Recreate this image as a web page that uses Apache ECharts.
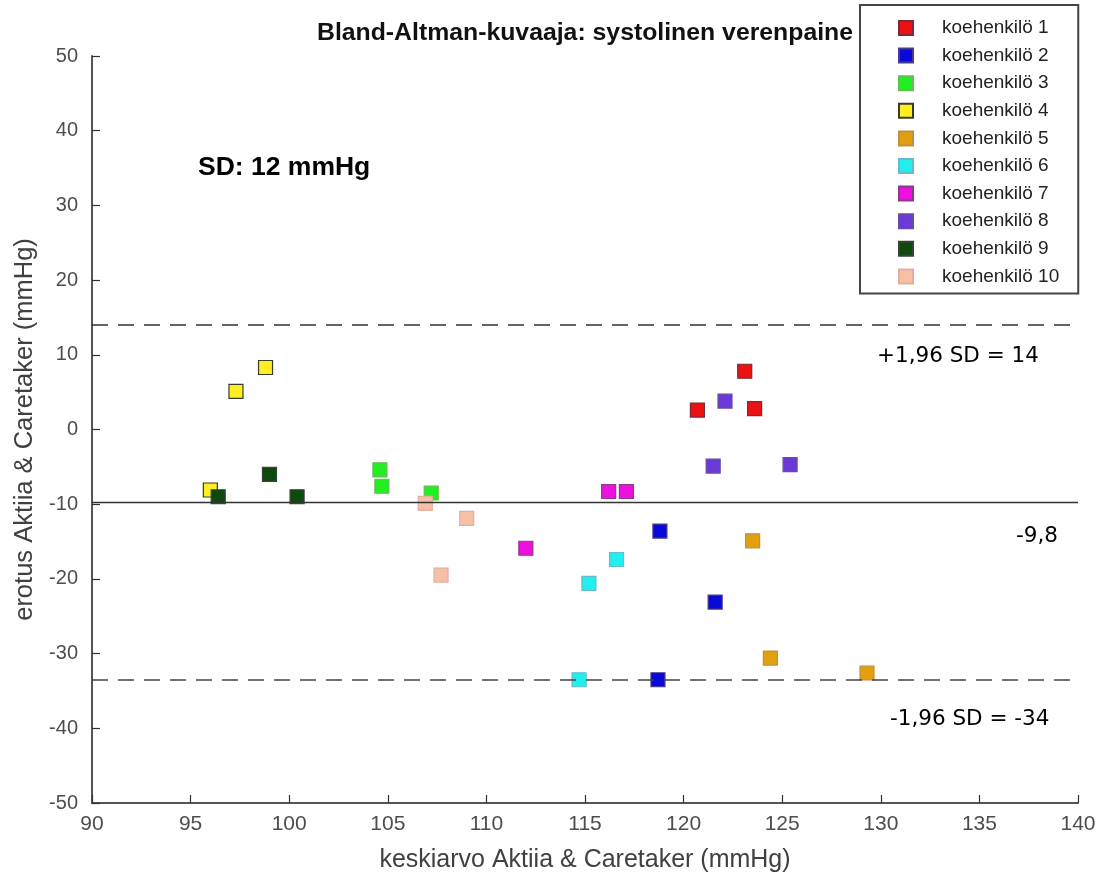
<!DOCTYPE html>
<html>
<head>
<meta charset="utf-8">
<script src="https://cdn.jsdelivr.net/npm/echarts@6/dist/echarts.min.js"></script>
<style>
html,body{margin:0;padding:0;background:#fff;}
#chart{width:1105px;height:875px;}
</style>
</head>
<body>
<div id="chart"></div>
<script>
// ---- data ----
const subjects = ['koehenkilö 1','koehenkilö 2','koehenkilö 3','koehenkilö 4','koehenkilö 5','koehenkilö 6','koehenkilö 7','koehenkilö 8','koehenkilö 9','koehenkilö 10'];
const mean1 = [120.7, 123.1, 123.6];  const diff1 = [2.6, 7.8, 2.8];
const mean2 = [118.8, 121.6, 118.7];  const diff2 = [-13.6, -23.1, -33.5];
const mean3 = [104.6, 104.7, 107.2];  const diff3 = [-5.4, -7.6, -8.5];
const mean4 = [98.8, 97.3, 96.0];     const diff4 = [8.3, 5.1, -8.1];
const mean5 = [123.5, 124.4, 129.3];  const diff5 = [-14.9, -30.6, -32.6];
const mean6 = [116.6, 115.2, 114.7];  const diff6 = [-17.4, -20.6, -33.5];
const mean7 = [116.2, 117.1, 112.0];  const diff7 = [-8.3, -8.3, -15.9];
const mean8 = [122.1, 121.5, 125.4];  const diff8 = [3.8, -4.9, -4.7];
const mean9 = [96.4, 99.0, 100.4];    const diff9 = [-9.0, -6.0, -9.0];
const mean10 = [106.9, 109.0, 107.7]; const diff10 = [-9.9, -11.9, -19.5];
const meanDiff = -9.8;
const upperLimit = 14;
const lowerLimit = -33.5;
const xTicks = [90, 140, 5];
const yTicks = [-50, 50, 10];

const means = [mean1,mean2,mean3,mean4,mean5,mean6,mean7,mean8,mean9,mean10];
const diffs = [diff1,diff2,diff3,diff4,diff5,diff6,diff7,diff8,diff9,diff10];

// ---- styles ----
const fills   = ['#ee1111','#0a0ad8','#22ee22','#ffee22','#e0a010','#22eeee','#ee10dd','#6a3ad8','#0e4a0e','#f7c0a6'];
const borders = ['#7a2a3a','#4a3a8a','#66bb55','#3a3a2a','#c09040','#66bbcc','#8a3a8a','#6a4aa8','#334433','#e0b0a0'];

const chart = echarts.init(document.getElementById('chart'), null, {renderer:'canvas'});
const font = 'Liberation Sans, Arial, sans-serif';
const vfont = 'DejaVu Sans, Verdana, sans-serif';

const series = subjects.map((name, i) => ({
  name: name,
  type: 'scatter',
  symbol: 'rect',
  symbolSize: 14,
  z: 2,
  itemStyle: { color: fills[i], borderColor: borders[i], borderWidth: 1.2, opacity: 1 },
  data: means[i].map((m, k) => [m, diffs[i][k]])
}));

series.push({
  name: 'limits',
  type: 'scatter',
  data: [],
  z: 5,
  markLine: {
    silent: true,
    symbol: ['none','none'],
    label: { show: false },
    data: [
      { yAxis: upperLimit, lineStyle: { type: [16,10], color: '#333', width: 1.6 } },
      { yAxis: meanDiff,   lineStyle: { type: 'solid', color: '#333', width: 1.4 } },
      { yAxis: lowerLimit, lineStyle: { type: [16,10], color: '#444', width: 1.6 } }
    ]
  }
});

const option = {
  animation: false,
  backgroundColor: '#fff',
  grid: { left: 92, right: 27, top: 56, bottom: 72, containLabel: false, outerBoundsMode: 'none' },
  xAxis: {
    type: 'value', min: xTicks[0], max: xTicks[1], interval: xTicks[2],
    name: 'keskiarvo Aktiia & Caretaker (mmHg)',
    nameLocation: 'middle', nameGap: 45,
    nameTextStyle: { fontFamily: font, fontSize: 25, color: '#404040' },
    axisLine: { show: true, onZero: false, lineStyle: { color: '#555', width: 2 } },
    axisTick: { show: true, inside: true, length: 8, lineStyle: { color: '#333', width: 1.2 } },
    axisLabel: { fontFamily: font, fontSize: 21, color: '#4d4d4d', margin: 11 },
    splitLine: { show: false }
  },
  yAxis: {
    type: 'value', min: yTicks[0], max: yTicks[1], interval: yTicks[2],
    name: 'erotus Aktiia & Caretaker (mmHg)',
    nameLocation: 'middle', nameGap: 44,
    nameTextStyle: { fontFamily: font, fontSize: 25.5, color: '#404040' },
    axisLine: { show: true, onZero: false, lineStyle: { color: '#555', width: 2 } },
    axisTick: { show: true, inside: true, length: 8, lineStyle: { color: '#333', width: 1.2 } },
    axisLabel: { fontFamily: font, fontSize: 20, color: '#4d4d4d', margin: 14 },
    splitLine: { show: false }
  },
  legend: {
    data: subjects,
    orient: 'vertical',
    left: 860, top: 5,
    padding: [13, 19, 7, 38],
    itemWidth: 14, itemHeight: 14,
    itemGap: 7.6,
    icon: 'rect',
    borderColor: '#444', borderWidth: 2,
    backgroundColor: '#fff',
    textStyle: { fontFamily: font, fontSize: 19, color: '#222', lineHeight: 20, padding: [0,0,0,24] }
  },
  graphic: [
    { type: 'text', x: 585, y: 33, style: { text: 'Bland-Altman-kuvaaja: systolinen verenpaine', fontFamily: font, fontSize: 24.8, fontWeight: 'bold', fill: '#111', textAlign: 'center', textVerticalAlign: 'middle' } },
    { type: 'text', x: 198, y: 168, style: { text: 'SD: 12 mmHg', fontFamily: font, fontSize: 26.5, fontWeight: 'bold', fill: '#000', textAlign: 'left', textVerticalAlign: 'middle' } },
    { type: 'text', x: 877, y: 356, style: { text: '+1,96 SD = 14', fontFamily: vfont, fontSize: 21.5, fill: '#000', textAlign: 'left', textVerticalAlign: 'middle' } },
    { type: 'text', x: 1016, y: 536, style: { text: '-9,8', fontFamily: vfont, fontSize: 21.5, fill: '#000', textAlign: 'left', textVerticalAlign: 'middle' } },
    { type: 'text', x: 890, y: 719, style: { text: '-1,96 SD = -34', fontFamily: vfont, fontSize: 21.5, fill: '#000', textAlign: 'left', textVerticalAlign: 'middle' } }
  ],
  series: series
};
chart.setOption(option);
</script>
</body>
</html>
